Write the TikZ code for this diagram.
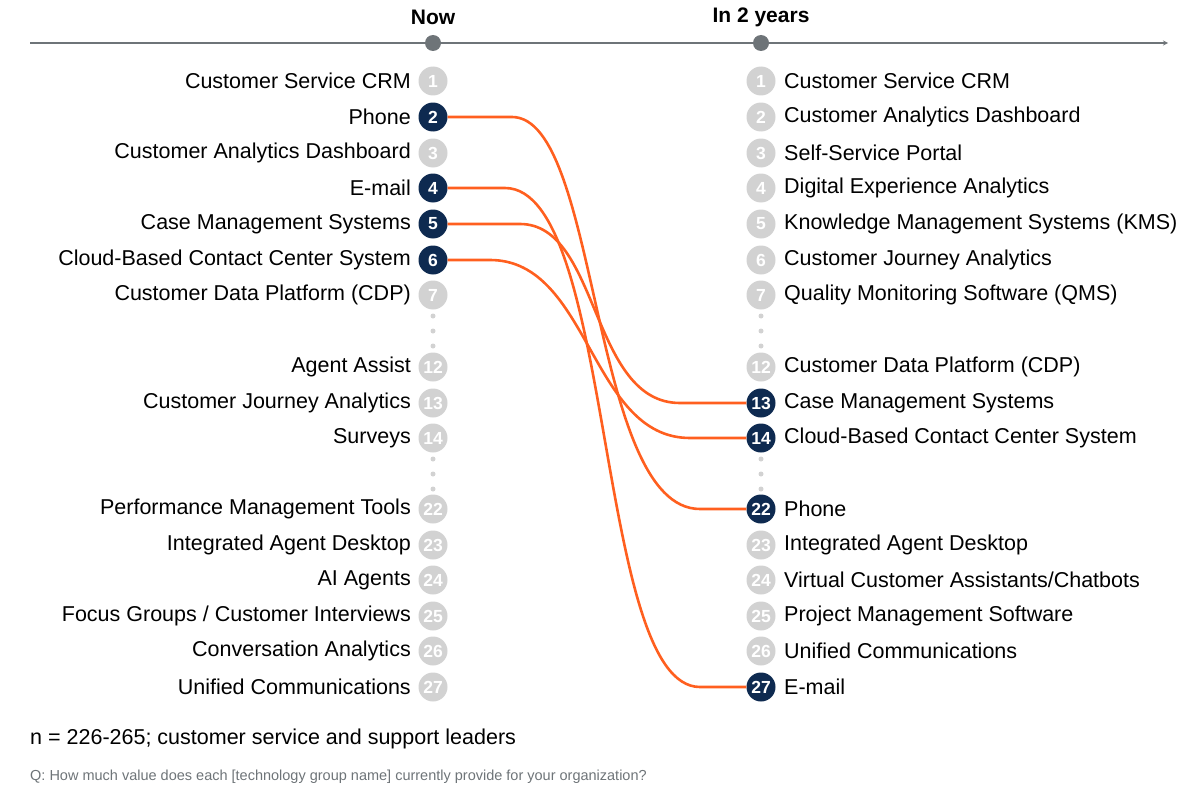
\documentclass[tikz,border=0pt]{standalone}
\usepackage{fontspec}
\setmainfont{Liberation Sans}
\definecolor{navy}{HTML}{0E2A50}
\definecolor{lgray}{HTML}{D2D2D2}
\definecolor{orng}{HTML}{FF5F1F}
\definecolor{axg}{HTML}{6E7478}
\begin{document}
\begin{tikzpicture}[x=1pt,y=-1pt,
 lab/.style={font=\fontsize{21.5}{24}\selectfont,text=black,inner sep=0},
 num/.style={circle,fill=lgray,minimum size=29pt,inner sep=0,text=white,font=\fontsize{17.5}{18}\selectfont\bfseries},
 hl/.style={num,fill=navy},
 dt/.style={circle,fill=lgray,inner sep=0,minimum size=5pt},
 link/.style={orng,line width=2.6pt}]
\useasboundingbox (0,0) rectangle (1200,800);
\draw[axg,line width=1.2pt,-stealth] (30,43) -- (1168,43);
\fill[axg] (433,43) circle (8);
\fill[axg] (761,43) circle (8);
\node[font=\fontsize{21}{24}\selectfont\bfseries] (now) at (433,17) {Now};
\node[font=\fontsize{21}{24}\selectfont\bfseries] (in2) at (761,17) {In 2 years};
% left
\foreach \n/\y/\t/\s in {1/81/{Customer Service CRM}/num,2/117/{Phone}/hl,3/153/{Customer Analytics Dashboard}/num,4/188/{E-mail}/hl,5/224/{Case Management Systems}/hl,6/260/{Cloud-Based Contact Center System}/hl,7/295/{Customer Data Platform (CDP)}/num,12/367/{Agent Assist}/num,13/403/{Customer Journey Analytics}/num,14/438/{Surveys}/num,22/509/{Performance Management Tools}/num,23/545/{Integrated Agent Desktop}/num,24/580/{AI Agents}/num,25/616/{Focus Groups / Customer Interviews}/num,26/651/{Conversation Analytics}/num,27/687/{Unified Communications}/num}{
 \node[\s] (L\n) at (433,\y) {\n};
 \node[lab,anchor=east] (LT\n) at (411,\y) {\t};
}
% right
\foreach \n/\y/\t/\s in {1/81/{Customer Service CRM}/num,2/117/{Customer Analytics Dashboard}/num,3/153/{Self-Service Portal}/num,4/188/{Digital Experience Analytics}/num,5/224/{Knowledge Management Systems (KMS)}/num,6/260/{Customer Journey Analytics}/num,7/295/{Quality Monitoring Software (QMS)}/num,12/367/{Customer Data Platform (CDP)}/num,13/403/{Case Management Systems}/hl,14/438/{Cloud-Based Contact Center System}/hl,22/509/{Phone}/hl,23/545/{Integrated Agent Desktop}/num,24/580/{Virtual Customer Assistants/Chatbots}/num,25/616/{Project Management Software}/num,26/651/{Unified Communications}/num,27/687/{E-mail}/hl}{
 \node[\s] (R\n) at (761,\y) {\n};
 \node[lab,anchor=west] (RT\n) at (784,\y) {\t};
}
\foreach \x in {433,761}{
 \foreach \y in {316,331,346,459,474,489}{\node[dt] at (\x,\y) {};}
}
% links
\draw[link] (L2.east) -- (512,117) .. controls (600,117) and (590,509) .. (700,509) -- (R22.west);
\draw[link] (L4.east) -- (505,188) .. controls (615,188) and (595,687) .. (700,687) -- (R27.west);
\draw[link] (L5.east) -- (520,224) .. controls (600,224) and (590,403) .. (680,403) -- (R13.west);
\draw[link] (L6.east) -- (490,260) .. controls (590,260) and (590,438) .. (690,438) -- (R14.west);
\node[lab,anchor=west] (n) at (30,739) {n = 226-265; customer service and support leaders};
\node[anchor=west,inner sep=0,text=axg,font=\fontsize{14.5}{16}\selectfont] (q) at (30,777) {Q: How much value does each [technology group name] currently provide for your organization?};
\end{tikzpicture}
\end{document}
